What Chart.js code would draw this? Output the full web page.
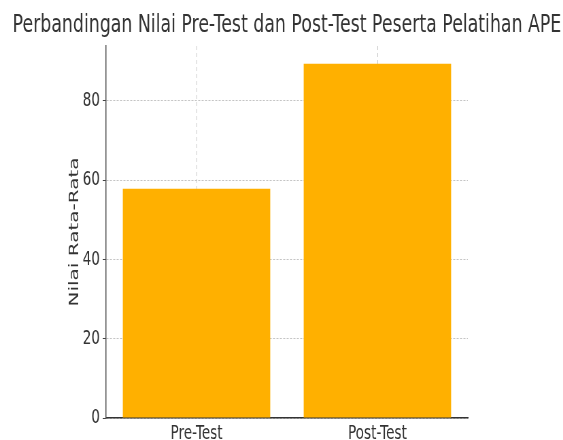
<!DOCTYPE html>
<html>
<head>
<meta charset="utf-8">
<script src="https://cdn.jsdelivr.net/npm/chart.js@4"></script>
<style>
  html, body { margin: 0; padding: 0; overflow: hidden; background: #fff; }
  /* reference is squeezed horizontally, so draw wide and scale it down */
  #wrap { width: 828px; height: 440px; transform: scaleX(0.68); transform-origin: 0 0; }
</style>
</head>
<body>
<div id="wrap"><canvas id="chart"></canvas></div>
<script>
const titleText = 'Perbandingan Nilai Pre-Test dan Post-Test Peserta Pelatihan APE';
const yTitle = 'Nilai Rata-Rata';
const categories = ['Pre-Test', 'Post-Test'];
const averages = [57.8, 89.3];
const yMax = 93.8;

const barColor = '#FFB000';
const gridColor = '#c4c4c4';
const textColor = '#333333';
const font = "'DejaVu Sans', sans-serif";

new Chart(document.getElementById('chart'), {
  type: 'bar',
  data: {
    labels: categories,
    datasets: [{ data: averages, backgroundColor: barColor, borderWidth: 0,
                 barPercentage: 0.815, categoryPercentage: 1.0 }]
  },
  options: {
    responsive: true,
    maintainAspectRatio: false,
    animation: false,
    layout: { padding: { left: 16, right: 0, top: 0, bottom: 0 } },
    plugins: {
      legend: { display: false },
      tooltip: { enabled: false },
      title: { display: true, text: titleText, color: textColor,
               font: { family: font, size: 25.5, weight: 'normal', lineHeight: 1.2 },
               padding: { top: 10.5, bottom: 4.9 } }
    },
    scales: {
      x: {
        z: 1,
        grid: { offset: false, color: gridColor, lineWidth: 1, tickLength: 0, drawTicks: false },
        border: { display: true, color: '#333333', width: 1.5, dash: [4, 3] },
        ticks: { color: textColor, padding: 4, font: { family: font, size: 20 } },
        afterFit: s => { s.height = 22; }
      },
      y: {
        z: 1,
        min: 0, max: yMax,
        grid: { color: gridColor, lineWidth: 1, tickLength: 5, tickColor: '#444' },
        border: { display: true, color: '#555555', width: 1.5, dash: [3, 2] },
        ticks: { stepSize: 20, includeBounds: false, color: textColor, padding: 4,
                 font: { family: font, size: 20 } },
        title: { display: true, text: yTitle, color: textColor,
                 font: { family: font, size: 20, weight: 'normal' },
                 padding: { top: 82, bottom: 0 } },
        afterFit: s => { s.width = 140; }
      },
      y2: {
        position: 'right',
        display: true,
        grid: { display: false },
        border: { display: false },
        ticks: { display: false },
        afterFit: s => { s.width = 140; }
      }
    }
  }
});
</script>
</body>
</html>
